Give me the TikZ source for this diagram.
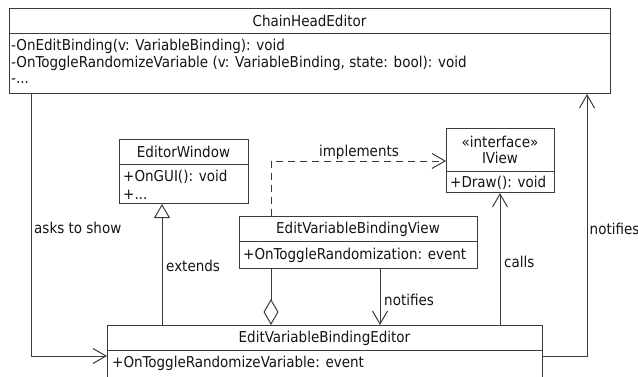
\documentclass[tikz,border=0pt]{standalone}
\usepackage{fontspec}
\IfFontExistsTF{DejaVu Sans Condensed}
  {\setmainfont{DejaVu Sans Condensed}\newcommand\umlfontsize{\fontsize{15}{18}\selectfont}}
  {\setmainfont{DejaVu Sans}\newcommand\umlfontsize{\fontsize{13.6}{16}\selectfont}}
\usetikzlibrary{arrows.meta}

\definecolor{linec}{HTML}{3A3A3A}
\definecolor{textc}{HTML}{141414}

\tikzset{
  umlbox/.style={draw=linec, line width=1pt, fill=white, anchor=north west, inner sep=0pt},
  txt/.style={anchor=base, inner sep=0pt, text=textc},
  txtl/.style={anchor=base west, inner sep=0pt, text=textc},
  conn/.style={draw=linec, line width=1pt},
  openarr/.style={-{Straight Barb[length=13pt,width=15pt]}},
  genarr/.style={-{Triangle[open,length=14pt,width=16pt]}},
  aggarr/.style={{Diamond[open,length=26pt,width=15pt]}-},
  dashline/.style={dash pattern=on 7pt off 5pt}
}

\begin{document}
\begin{tikzpicture}[x=1pt,y=-1pt,font=\umlfontsize]
\clip (0,0) rectangle (638,376);

% ---- ChainHeadEditor ----
\node[umlbox, minimum width=601pt, minimum height=85pt] (che) at (9,8) {};
\draw[conn] (che.west |- 0,33) -- (che.east |- 0,33);
\node[txt]  (cheT)  at (309.5,26) {ChainHeadEditor};
\node[txtl] (cheA1) at (11,50) {-OnEditBinding(v: VariableBinding): void};
\node[txtl] (cheA2) at (11,67) {-OnToggleRandomizeVariable (v: VariableBinding, state: bool): void};
\node[txtl] (cheA3) at (11,83) {-...};

% ---- EditorWindow ----
\node[umlbox, minimum width=129pt, minimum height=64pt] (ew) at (119,139) {};
\draw[conn] (ew.west |- 0,164) -- (ew.east |- 0,164);
\node[txt]  (ewT)  at (183.5,157) {EditorWindow};
\node[txtl] (ewA1) at (123,181) {+OnGUI(): void};
\node[txtl] (ewA2) at (123,199) {+...};

% ---- IView ----
\node[umlbox, minimum width=108pt, minimum height=64pt] (iview) at (446,128) {};
\draw[conn] (iview.west |- 0,171) -- (iview.east |- 0,171);
\node[txt]  (ivS)  at (500,147) {«interface»};
\node[txt]  (ivT)  at (500,163) {IView};
\node[txtl] (ivA1) at (450,187) {+Draw(): void};

% ---- EditVariableBindingView ----
\node[umlbox, minimum width=238pt, minimum height=52pt] (evbv) at (239,216) {};
\draw[conn] (evbv.west |- 0,241) -- (evbv.east |- 0,241);
\node[txt]  (evbvT)  at (358,233) {EditVariableBindingView};
\node[txtl] (evbvA1) at (243,259) {+OnToggleRandomization: event};

% ---- EditVariableBindingEditor ----
\node[umlbox, minimum width=435pt, minimum height=80pt] (evbe) at (107,325) {};
\draw[conn] (evbe.west |- 0,350) -- (evbe.east |- 0,350);
\node[txt]  (evbeT)  at (324.5,342) {EditVariableBindingEditor};
\node[txtl] (evbeA1) at (112,367) {+OnToggleRandomizeVariable: event};

% ---- connector routing points ----
\coordinate (askBend)  at (31,356);
\coordinate (notBend)  at (587,356);
\coordinate (implBend) at (271,161);
\coordinate (extX)     at (162,0);
\coordinate (aggX)     at (271,0);
\coordinate (notX)     at (380,0);
\coordinate (callX)    at (500,0);

% asks to show
\draw[conn, openarr] (askBend |- che.south) -- (askBend) -- (evbe.west |- askBend);
\node[txtl] (lblAsk) at (34,233) {asks to show};

% notifies (back to ChainHeadEditor)
\draw[conn, openarr] (evbe.east |- notBend) -- (notBend) -- (notBend |- che.south);
\node[txtl] (lblNotR) at (589.5,234) {notifies};

% extends
\draw[conn, genarr] (extX |- evbe.north) -- (extX |- ew.south);
\node[txtl] (lblExt) at (166,271) {extends};

% implements
\draw[conn, dashline, openarr] (implBend |- evbv.north) -- (implBend) -- (iview.west |- implBend);
\node[txt] (lblImpl) at (359,156) {implements};

% aggregation
\draw[conn, aggarr] (aggX |- evbe.north) -- (aggX |- evbv.south);

% notifies (view to editor)
\draw[conn, openarr] (notX |- evbv.south) -- (notX |- evbe.north);
\node[txtl] (lblNotM) at (384,305) {notifies};

% calls
\draw[conn, openarr] (callX |- evbe.north) -- (callX |- iview.south);
\node[txtl] (lblCalls) at (504,267) {calls};
\end{tikzpicture}
\end{document}
